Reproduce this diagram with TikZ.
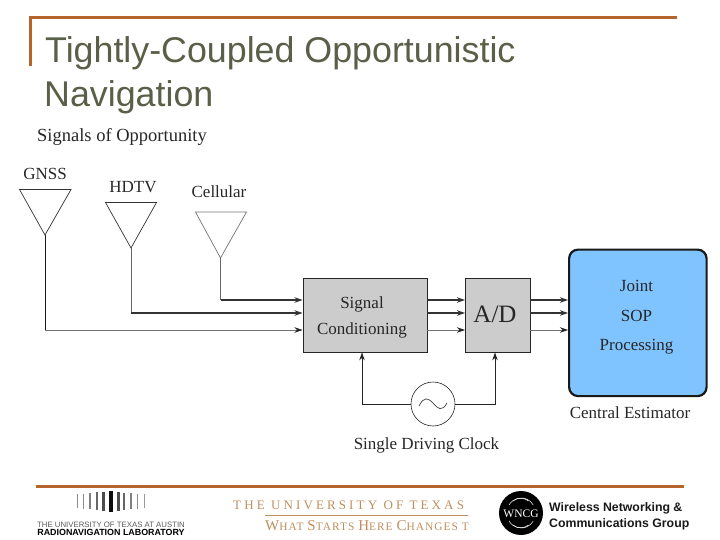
\documentclass[tikz,border=0pt]{standalone}
\usepackage{fontspec}
\setmainfont{Liberation Serif}
\setsansfont{Liberation Sans}
\newfontfamily\utfont[LetterSpace=24]{Liberation Serif}
\newfontfamily\utcaps[LetterSpace=9]{Liberation Serif}
\usetikzlibrary{arrows.meta}
\definecolor{rulebrown}{HTML}{B5652B}
\definecolor{titlegreen}{HTML}{5A5F48}
\definecolor{boxgray}{HTML}{CCCCCC}
\definecolor{estblue}{HTML}{80C4FF}
\definecolor{utorange}{HTML}{C08F5F}
\tikzset{
  rulebar/.style={draw=rulebrown,line width=3pt},
  titletext/.style={anchor=base west,inner sep=0,text=titlegreen,font=\sffamily\fontsize{35.8}{36}\selectfont},
  lab/.style={inner sep=0,text=black!85,font=\fontsize{17}{18}\selectfont},
  antenna/.style={draw=black!80,line width=0.7pt,line join=miter},
  proc/.style={draw=black!85,fill=boxgray,line width=0.9pt,inner sep=0,anchor=north west},
  sig/.style={draw=black!80,line width=1.05pt,-{Stealth[length=8pt,width=5.5pt]}},
  sigthin/.style={draw=black!55,line width=0.7pt,-{Stealth[length=8pt,width=5.5pt,color=black!85]}},
  riser/.style={draw=black!60,line width=0.8pt},
  riserdark/.style={draw=black!90,line width=0.9pt},
  feed/.style={draw=black!85,line width=0.9pt},
}
\begin{document}
\begin{tikzpicture}[x=1pt,y=-1pt]
\useasboundingbox (0,0) rectangle (720,540);
% header
\draw[rulebar] (30,66.5) -- (30,18) -- (677,18);
\node[titletext] (t1) at (45,63) {Tightly-Coupled Opportunistic};
\node[titletext] (t2) at (44,107) {Navigation};
\node[lab,anchor=base west,font=\fontsize{18.5}{19}\selectfont] (sop) at (37,142) {Signals of Opportunity};
% antennas
\node[lab] (gnsslab) at (45,174) {GNSS};
\node[lab] (hdtvlab) at (133,187) {HDTV};
\node[lab] (celllab) at (219,191.5) {Cellular};
\coordinate (ga) at (45,235);
\coordinate (ha) at (131,248);
\coordinate (ca) at (220.5,258);
\coordinate (gb) at (45,330);
\coordinate (hb) at (131,313);
\coordinate (cb) at (220.5,300);
\draw[antenna] (19.5,189.5) -- (71,189.5) -- (ga) -- cycle;
\draw[antenna] (105.5,202.5) -- (156.5,202.5) -- (ha) -- cycle;
\draw[antenna,draw=black!55] (195.5,212) -- (246.5,212) -- (ca) -- cycle;
% boxes
\node[proc,minimum width=124pt,minimum height=73.5pt] (sc) at (302.5,278) {};
\node[lab] (sc1) at (362,304) {Signal};
\node[lab] (sc2) at (362,330) {Conditioning};
\node[proc,minimum width=64.5pt,minimum height=73.5pt] (ad) at (465,278) {};
\node[inner sep=0,text=black!85,font=\rmfamily\fontsize{25}{26}\selectfont] (adl) at (495,314.5) {A/D};
\node[draw=black!90,fill=estblue,line width=2.2pt,rounded corners=9pt,inner sep=0,anchor=north west,minimum width=137.5pt,minimum height=146.5pt] (ce) at (568,248.5) {};
\node[lab] (j1) at (636.5,286) {Joint};
\node[lab] (j2) at (636.5,316) {SOP};
\node[lab] (j3) at (636.5,347) {Processing};
\node[lab] (cel) at (630,413) {Central Estimator};
% signal paths
\draw[riser] (ca) -- (cb);
\draw[riser] (ha) -- (hb);
\draw[riserdark] (ga) -- (gb);
\draw[sig] (cb) -- (sc.west |- cb);
\draw[sig] (hb) -- (sc.west |- hb);
\draw[sigthin] (gb) -- (sc.west |- gb);
\draw[sig] (sc.east |- cb) -- (ad.west |- cb);
\draw[sig] (sc.east |- hb) -- (ad.west |- hb);
\draw[sigthin] (sc.east |- gb) -- (ad.west |- gb);
\draw[sig] (ad.east |- cb) -- (ce.west |- cb);
\draw[sig] (ad.east |- hb) -- (ce.west |- hb);
\draw[sigthin] (ad.east |- gb) -- (ce.west |- gb);
% clock
\node[circle,draw=black!85,fill=white,line width=0.6pt,minimum size=44pt,inner sep=0] (clk) at (433,404) {};
\draw[black!75,line width=0.7pt] (419,406) .. controls (424,396) and (428,398) .. (433,403) .. controls (438,409) and (442,412) .. (447,403);
\draw[feed,-{Stealth[length=8pt,width=5.5pt]}] (clk.west) -- (362,404) -- (sc.south -| 362,0);
\draw[feed,-{Stealth[length=8pt,width=5.5pt]}] (clk.east) -- (495,404) -- (ad.south -| 495,0);
\node[lab] (clkl) at (426.5,445.5) {Single Driving Clock};
% footer
\draw[rulebar] (36,486) -- (684,486);
\foreach \x/\h/\w/\g in {77/7/.7/45,83/7.5/.9/45,90/8/1.4/50,97/9/2.4/60,103/9.5/3/70,111/10.5/4/95,118/9.5/3/70,124/8.5/2.4/60,131/8/1.4/50,137/7.5/.9/45,144/7/.7/40}
  \draw[black!\g,line width=\w pt] (\x,501-\h) -- (\x,501+\h);
\node[inner sep=0,text=black!65,font=\sffamily\fontsize{7.8}{8}\selectfont] (utaustin) at (111,525) {THE UNIVERSITY OF TEXAS AT AUSTIN};
\node[inner sep=0,text=black,font=\sffamily\bfseries\fontsize{8.9}{9}\selectfont] (rnl) at (111,532.5) {RADIONAVIGATION LABORATORY};
\node[inner sep=0,anchor=base west,text=utorange,font=\utfont\fontsize{13}{13}\selectfont] (ut) at (233,509) {THE UNIVERSITY OF TEXAS};
\draw[utorange,line width=0.7pt] (265,515.5) -- (468,515.5);
\node[inner sep=0,anchor=base west,text=utorange,font=\utcaps\fontsize{11.4}{12}\selectfont] (wsh) at (265,530) {{\fontsize{15}{15}\selectfont W}HAT {\fontsize{15}{15}\selectfont S}TARTS {\fontsize{15}{15}\selectfont H}ERE {\fontsize{15}{15}\selectfont C}HANGES T};
\node[circle,fill=black,minimum size=44pt,inner sep=0] (wncg) at (521,513) {};
\draw[white,line width=0.5pt] (509,505) arc[start angle=150,end angle=30,radius=14pt];
\draw[white,line width=0.5pt] (513,501) arc[start angle=130,end angle=50,radius=12pt];
\draw[white,line width=0.5pt] (509,521) arc[start angle=210,end angle=330,radius=14pt];
\draw[white,line width=0.5pt] (513,525) arc[start angle=230,end angle=310,radius=12pt];
\node[inner sep=0,text=white,font=\rmfamily\fontsize{11.5}{12}\selectfont] (wncgl) at (521,514) {WNCG};
\node[inner sep=0,anchor=base west,text=black!90,font=\sffamily\bfseries\fontsize{12.3}{13}\selectfont] (w1) at (549,511) {Wireless Networking \&};
\node[inner sep=0,anchor=base west,text=black!90,font=\sffamily\bfseries\fontsize{12.3}{13}\selectfont] (w2) at (549,527) {Communications Group};
\end{tikzpicture}
\end{document}
